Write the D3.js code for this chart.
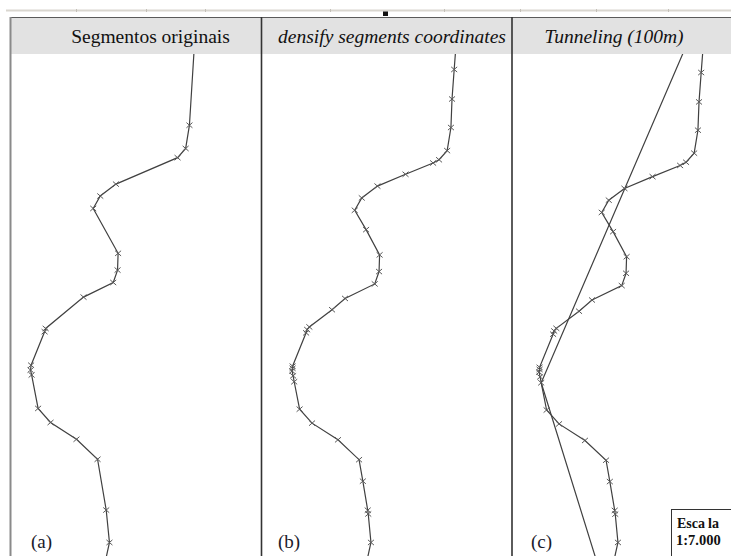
<!DOCTYPE html>
<html>
<head>
<meta charset="utf-8">
<script src="https://cdn.jsdelivr.net/npm/d3@7"></script>
<style>
  html, body { margin: 0; padding: 0; background: #fff; overflow: hidden; }
  svg { display: block; }
</style>
</head>
<body>
<svg id="fig" width="731" height="556"></svg>
<script>
// Road centre-line vertices, local grid in metres [easting, northing]
const originalVertices = [
  [342, 958], [332, 797], [325, 754], [310, 737], [196, 688], [167, 666],
  [154, 643], [200, 560], [199, 529], [191, 506], [136, 479], [66, 421],
  [64, 415], [39, 353], [38, 344], [40, 335], [52, 273], [75, 247],
  [123, 216], [162, 179], [178, 85], [184, 25], [172, -30]
];

// Same line after densifying the segment coordinates
const densifiedVertices = [
  [342, 958], [338, 905], [334, 850], [332, 797], [325, 754], [310, 737],
  [299, 731], [248, 710], [196, 688], [167, 666], [154, 643], [175, 607],
  [200, 560], [199, 529], [191, 506], [136, 479], [112, 458], [70, 426],
  [66, 421], [64, 415], [39, 353], [39, 349], [38, 344], [40, 335],
  [42, 324], [52, 273], [75, 247], [123, 216], [162, 179], [169, 139],
  [178, 85], [179, 78], [184, 25], [172, -30]
];

// Straight line kept by tunneling with a 100 m tolerance
const tunnelVertices = [[326, 992], [42, 324], [155, -44]];

const panelTitles = ["Segmentos originais", "densify segments coordinates", "Tunneling (100m)"];
const titleItalic = [false, true, true];
const panelLetters = ["(a)", "(b)", "(c)"];
const scaleTitle = ["Esca", "la"];
const scaleRatio = "1:7.000";

const serif = "'Liberation Serif', 'Times New Roman', Times, serif";
const svg = d3.select("#fig");
const W = 731, H = 556;
const headerTop = 18, headerBottom = 54;

// Each panel shows the same map extent, drawn side by side
const panels = [
  { left: 11,  right: 261, xr: [10, 259.7],    yr: [556, 15.5],   titleX: 150.5, letterX: 31,
    lines: [originalVertices],                 marks: originalVertices },
  { left: 262, right: 512, xr: [271.5, 521.2], yr: [555.9, 18.4], titleX: 392,   letterX: 278,
    lines: [densifiedVertices],                marks: densifiedVertices },
  { left: 513, right: 731, xr: [518.5, 768.2], yr: [555.8, 21.8], titleX: 614,   letterX: 531,
    lines: [densifiedVertices, tunnelVertices], marks: densifiedVertices }
];

// thin ruler strip along the top
svg.append("rect").attr("x", 6).attr("y", 9.5).attr("width", W - 6).attr("height", 2)
  .attr("fill", "#d9d6cf");
[76, 146, 205, 330, 444, 520, 596, 668].forEach(x => {
  svg.append("line").attr("x1", x + 0.5).attr("x2", x + 0.5).attr("y1", 9).attr("y2", 12)
    .attr("stroke", "#c4c0b8").attr("stroke-width", 1);
});
svg.append("path").attr("d", "M383,11.5 L388,11.5 L388,16 L383,16 Z").attr("fill", "#111");

// header band
svg.append("rect").attr("x", 11).attr("y", headerTop).attr("width", W - 11)
  .attr("height", headerBottom - headerTop).attr("fill", "#e2e2e2");
svg.append("line").attr("x1", 10).attr("x2", W).attr("y1", headerTop - 0.5).attr("y2", headerTop - 0.5)
  .attr("stroke", "#5a5a5a").attr("stroke-width", 1);

const defs = svg.append("defs");

panels.forEach((p, i) => {
  const x = d3.scaleLinear().domain([0, 462]).range(p.xr);
  const y = d3.scaleLinear().domain([0, 1000]).range(p.yr);

  defs.append("clipPath").attr("id", "clip" + i)
    .append("rect").attr("x", p.left).attr("y", headerBottom)
    .attr("width", p.right - p.left).attr("height", H - headerBottom);

  const g = svg.append("g").attr("clip-path", `url(#clip${i})`);

  const line = d3.line().x(d => x(d[0])).y(d => y(d[1]));
  p.lines.forEach(v => {
    g.append("path").attr("d", line(v)).attr("fill", "none")
      .attr("stroke", "#404040").attr("stroke-width", 1.2);
  });

  g.selectAll("path.mark").data(p.marks).join("path")
    .attr("class", "mark")
    .attr("transform", d => `translate(${x(d[0])},${y(d[1])})`)
    .attr("d", "M-3,-2.6L3,2.6M-3,2.6L3,-2.6")
    .attr("stroke", "#595959").attr("stroke-width", 1).attr("fill", "none");

  svg.append("text").attr("x", p.titleX).attr("y", 43)
    .attr("text-anchor", "middle")
    .attr("font-family", serif)
    .attr("font-size", 19.5)
    .attr("font-style", titleItalic[i] ? "italic" : "normal")
    .attr("fill", "#111")
    .text(panelTitles[i]);

  svg.append("text").attr("x", p.letterX).attr("y", 548)
    .attr("font-family", serif)
    .attr("font-size", 19).attr("fill", "#1a1a2a")
    .text(panelLetters[i]);
});

// panel frames
svg.append("line").attr("x1", 10.5).attr("x2", 10.5).attr("y1", headerTop - 1).attr("y2", H)
  .attr("stroke", "#8a8a8a").attr("stroke-width", 2);
[261.5, 512].forEach(xv => {
  svg.append("line").attr("x1", xv).attr("x2", xv).attr("y1", headerTop - 1).attr("y2", H)
    .attr("stroke", "#333").attr("stroke-width", 1.6);
});

// scale box
const sb = svg.append("g");
sb.append("rect").attr("x", 671.5).attr("y", 509.5).attr("width", 80).attr("height", 60)
  .attr("fill", "#fff").attr("stroke", "#333").attr("stroke-width", 1);
const st = sb.append("text").attr("x", 677).attr("y", 527.5)
  .attr("font-family", serif)
  .attr("font-size", 14).attr("font-weight", "bold").attr("fill", "#111");
st.append("tspan").text(scaleTitle[0]);
st.append("tspan").attr("dx", 3).text(scaleTitle[1]);
sb.append("text").attr("x", 676).attr("y", 545)
  .attr("font-family", serif)
  .attr("font-size", 14.5).attr("font-weight", "bold").attr("fill", "#111")
  .text(scaleRatio);
</script>
</body>
</html>
